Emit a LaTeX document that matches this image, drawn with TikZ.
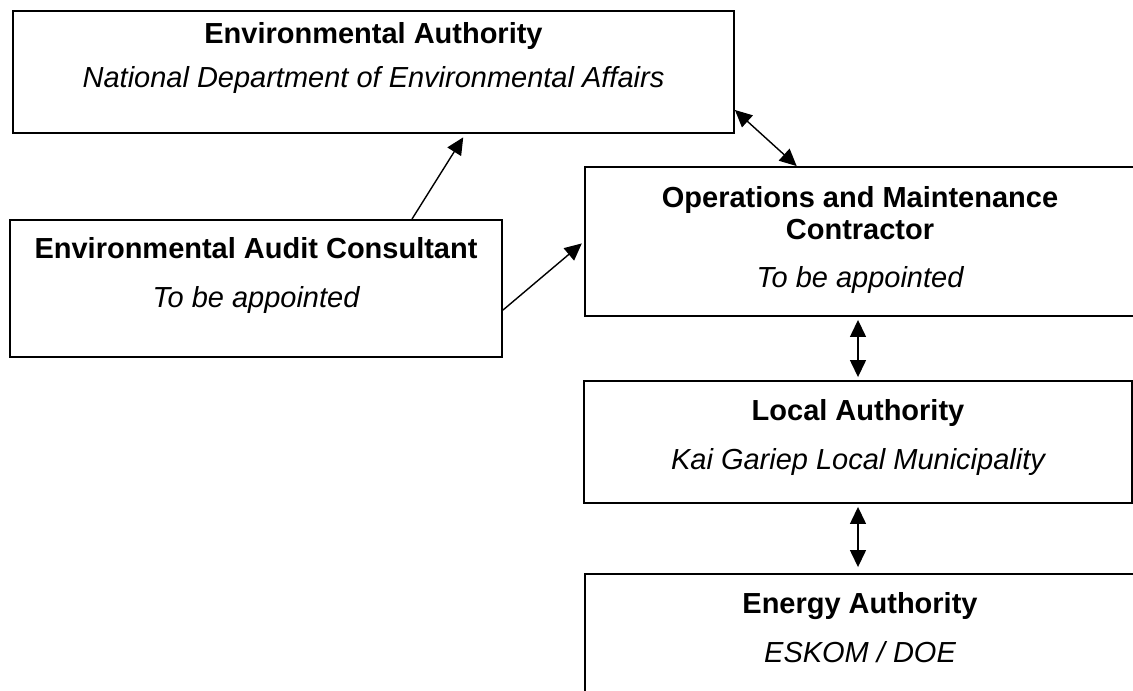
\documentclass[tikz,border=0pt]{standalone}
\usepackage{fontspec}
\setmainfont{Liberation Sans}
\usetikzlibrary{arrows.meta}

\tikzset{
  box/.style={draw, line width=1.1pt, inner sep=0pt},
  boxhead/.style={font=\fontsize{16.5}{18.2}\selectfont\bfseries, align=center, anchor=base},
  boxsub/.style={font=\fontsize{16.5}{18.2}\selectfont\itshape, anchor=base},
  link/.style={line width=0.8pt, -{Triangle[length=3.4mm,width=3.2mm]}},
  twoway/.style={line width=0.8pt, {Triangle[length=3.4mm,width=3.2mm]}-{Triangle[length=3.4mm,width=3.2mm]}},
}

\begin{document}
\begin{tikzpicture}[x=0.02cm, y=-0.02cm]
  \useasboundingbox (0,0) rectangle (1133,690);
  \clip (0,0) rectangle (1133,690);

  % boxes
  \node[box, minimum width=14.42cm, minimum height=2.44cm] (env) at (373.5,72) {};
  \node[box, minimum width=11cm, minimum height=2.98cm] (ops) at (860,241.5) {};
  \node[box, minimum width=9.84cm, minimum height=2.74cm] (audit) at (256,288.5) {};
  \node[box, minimum width=10.96cm, minimum height=2.44cm] (local) at (858,442) {};
  \node[box, minimum width=11cm, minimum height=2.44cm] (energy) at (860,635) {};

  % texts
  \node[boxhead] (envhead) at (373.5,43) {Environmental Authority};
  \node[boxsub] (envsub) at (373.5,87) {National Department of Environmental Affairs};
  \node[boxhead] (opshead) at (860,239) {Operations and Maintenance\\Contractor};
  \node[boxsub] (opssub) at (860,287) {To be appointed};
  \node[boxhead] (audithead) at (256,258) {Environmental Audit Consultant};
  \node[boxsub] (auditsub) at (256,307) {To be appointed};
  \node[boxhead] (localhead) at (858,420) {Local Authority};
  \node[boxsub] (localsub) at (858,469) {Kai Gariep Local Municipality};
  \node[boxhead] (energyhead) at (860,613) {Energy Authority};
  \node[boxsub] (energysub) at (860,662) {ESKOM / DOE};

  % connectors
  \draw[link, shorten >=0.08cm] (audit.24.3) -- (env.-34.3);
  \draw[link, shorten >=0.06cm] (audit.-5.5) -- (ops.west);
  \draw[twoway] (env.-6.5) -- (ops.130.2);
  \draw[twoway, shorten <=0.06cm, shorten >=0.06cm] (local.north |- ops.south) -- (local.north);
  \draw[twoway, shorten <=0.06cm, shorten >=0.12cm] (local.south) -- (energy.north -| local.south);
\end{tikzpicture}
\end{document}
